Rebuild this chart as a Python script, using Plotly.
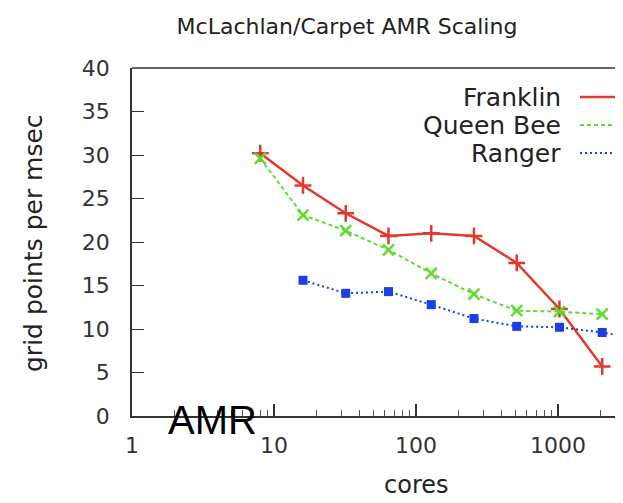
import plotly.graph_objects as go

# ---- data ----
cores_franklin = [8, 16, 32, 64, 128, 256, 512, 1024, 2048]
franklin = [30.2, 26.5, 23.3, 20.7, 21.0, 20.7, 17.6, 12.3, 5.7]

cores_queenbee = [8, 16, 32, 64, 128, 256, 512, 1024, 2048]
queenbee = [29.6, 23.1, 21.3, 19.1, 16.4, 14.0, 12.1, 12.0, 11.7]

cores_ranger = [16, 32, 64, 128, 256, 512, 1024, 2048, 4096]
ranger = [15.6, 14.1, 14.3, 12.8, 11.2, 10.3, 10.2, 9.6, 8.7]

series_names = ["Franklin", "Queen Bee", "Ranger"]
x_ticks = [1, 10, 100, 1000]
x_tick_labels = ["1", "10", "100", "1000"]
x_minor_ticks = [m * d for d in (1, 10, 100, 1000) for m in range(2, 10)]
y_ticks = [0, 5, 10, 15, 20, 25, 30, 35, 40]

# ---- style ----
RED = "#e0392e"
GREEN = "#5fdc2e"
BLUE = "#1a3fe6"
AX = "#333333"
FONT = "DejaVu Sans"

OFF = 8                      # page body margin
W, H = 623 - OFF, 503 - OFF  # figure size
L, T = 132 - OFF, 68 - OFF
B = H - (416 - OFF)
PW = W - L          # plot width (right side cut off like the reference)
PH = H - T - B
DECADE = 142.0      # px per decade

def px(x):
    """page pixel x -> paper coordinate"""
    return (x - OFF - L) / PW

def py(y):
    """page pixel y -> paper coordinate"""
    return (H - B - (y - OFF)) / PH

fig = go.Figure()
fig.add_trace(go.Scatter(
    x=cores_franklin, y=franklin, name=series_names[0], mode="lines+markers",
    line=dict(color=RED, width=2.5),
    marker=dict(symbol="cross-thin", size=12, color=RED, line=dict(color=RED, width=2.5)),
))
fig.add_trace(go.Scatter(
    x=cores_queenbee, y=queenbee, name=series_names[1], mode="lines+markers",
    line=dict(color=GREEN, width=2, dash="4px,3px"),
    marker=dict(symbol="x-thin", size=11, color=GREEN, line=dict(color=GREEN, width=2.5)),
))
fig.add_trace(go.Scatter(
    x=cores_ranger, y=ranger, name=series_names[2], mode="lines+markers",
    line=dict(color=BLUE, width=2, dash="2px,3px"),
    marker=dict(symbol="square", size=9, color=BLUE),
))

# legend drawn gnuplot style: text, then line sample
legend_y = [97, 125, 153]
legend_col = [RED, GREEN, BLUE]
legend_dash = ["solid", "4px,3px", "2px,3px"]
annotations = []
shapes = []
for name, yy, c, d in zip(series_names, legend_y, legend_col, legend_dash):
    annotations.append(dict(
        text=name, xref="paper", yref="paper", x=px(563), y=py(yy),
        xanchor="right", yanchor="middle", showarrow=False,
        font=dict(family=FONT, size=25, color="#222222"),
    ))
    shapes.append(dict(
        type="line", xref="paper", yref="paper", x0=px(580), x1=1.0,
        y0=py(yy), y1=py(yy), line=dict(color=c, width=2.5 if d == "solid" else 2, dash=d),
        layer="above",
    ))
# top frame line
shapes.append(dict(type="line", xref="paper", yref="paper", x0=0, x1=1, y0=1, y1=1,
                   line=dict(color=AX, width=1.5), layer="above"))

# axis titles and overlay label
annotations.append(dict(
    text="cores", xref="paper", yref="paper", x=px(416), y=py(485),
    xanchor="center", yanchor="middle", showarrow=False,
    font=dict(family=FONT, size=24, color="#222222"),
))
annotations.append(dict(
    text="grid points per msec", xref="paper", yref="paper", x=px(33), y=py(243),
    xanchor="center", yanchor="middle", showarrow=False, textangle=-90,
    font=dict(family=FONT, size=25, color="#222222"),
))
annotations.append(dict(
    text="AMR", xref="paper", yref="paper", x=px(212), y=py(420),
    xanchor="center", yanchor="middle", showarrow=False,
    font=dict(family="Liberation Sans", size=40, color="#000000"),
))

fig.update_layout(
    width=W, height=H,
    margin=dict(l=L, r=0, t=T, b=B),
    paper_bgcolor="white", plot_bgcolor="white",
    showlegend=False,
    font=dict(family=FONT, size=22, color="#222222"),
    title=dict(
        text="McLachlan/Carpet AMR Scaling", xref="container", yref="container",
        x=(347 - OFF) / W, y=1 - (26 - OFF) / H, xanchor="center", yanchor="middle",
        font=dict(family=FONT, size=22, color="#222222"),
    ),
    annotations=annotations,
    shapes=shapes,
)
fig.update_xaxes(
    type="log", range=[0, PW / DECADE],
    tickmode="array", tickvals=x_ticks, ticktext=x_tick_labels,
    showgrid=False, zeroline=False,
    showline=True, linecolor=AX, linewidth=1.5, mirror=False,
    ticks="inside", ticklen=12, tickwidth=1.5, tickcolor=AX,
    ticklabelstandoff=9,
    minor=dict(ticks="inside", ticklen=6, tickwidth=1.2, tickcolor="#555555",
               tickmode="array", tickvals=x_minor_ticks, showgrid=False),
    tickfont=dict(family=FONT, size=22, color="#333333"),
)
fig.update_yaxes(
    range=[0, 40], tickvals=y_ticks,
    showgrid=False, zeroline=False,
    showline=True, linecolor=AX, linewidth=1.5, mirror=False,
    ticks="inside", ticklen=12, tickwidth=1.2, tickcolor=AX,
    ticklabelstandoff=16,
    tickfont=dict(family=FONT, size=22, color="#333333"),
)

fig.write_html("out.html")
